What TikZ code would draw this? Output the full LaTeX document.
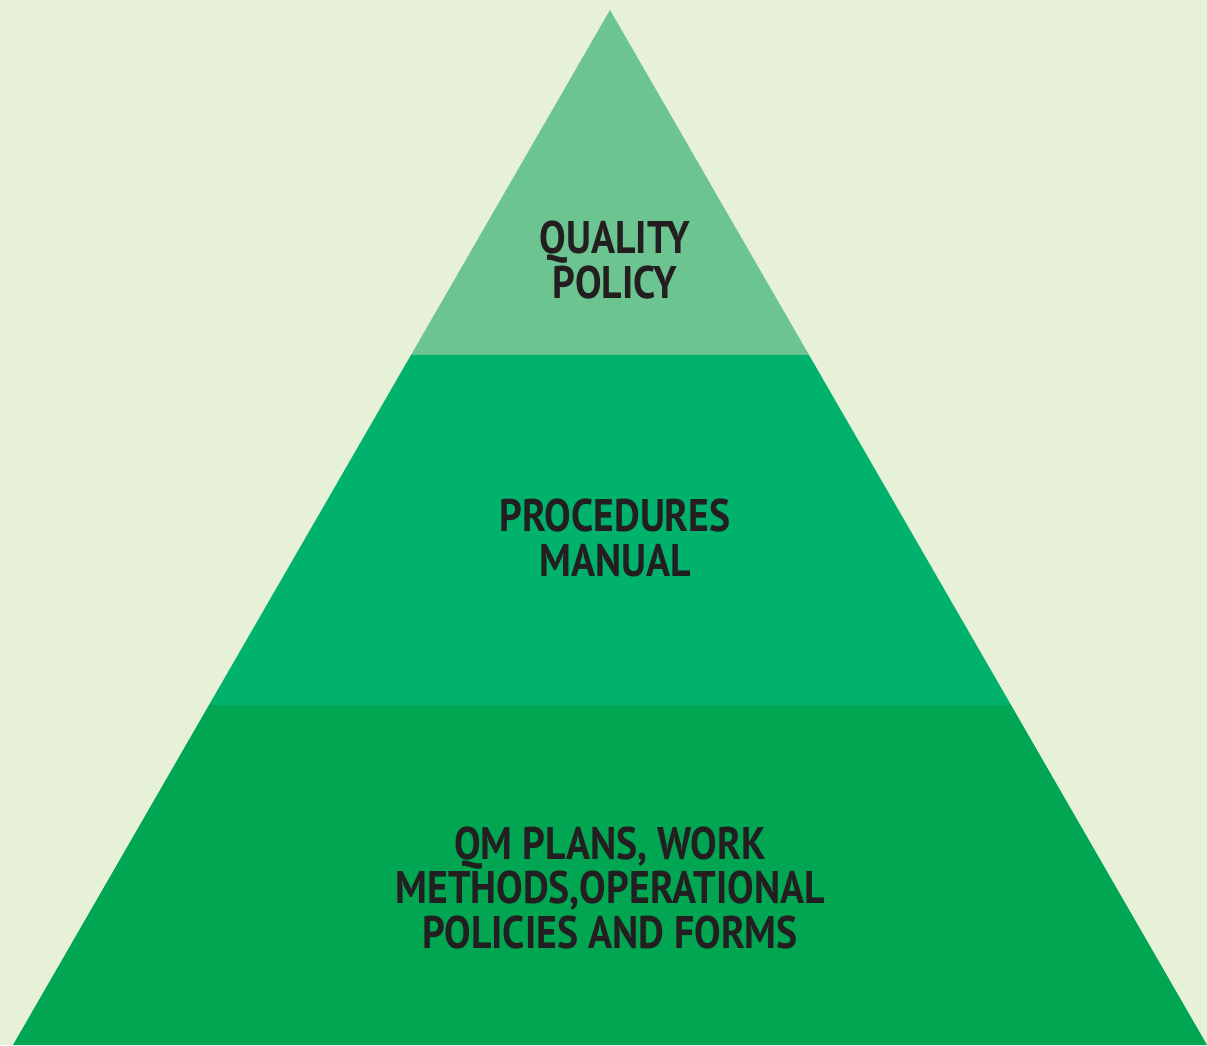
\documentclass[tikz,border=0pt]{standalone}
\usepackage{fontspec}
\newfontfamily\tierfont{PT Sans}[FakeStretch=0.87]
\usetikzlibrary{positioning}

\definecolor{bgcol}{HTML}{E6F1D7}
\definecolor{topcol}{HTML}{6CC491}
\definecolor{midcol}{HTML}{00B26C}
\definecolor{botcol}{HTML}{00A652}
\definecolor{txtcol}{HTML}{231F20}

\begin{document}
\begin{tikzpicture}[tier label/.style={align=center,text=txtcol,
    font=\tierfont\bfseries\fontsize{13}{12.6}\selectfont,inner sep=0pt}]

  \fill[bgcol] (0,0) rectangle (12.07,10.45);
  \useasboundingbox (0,0) rectangle (12.07,10.45);

  \coordinate (apex) at (6.10,10.35);
  \coordinate (ul) at (4.11,6.90);
  \coordinate (ur) at (8.09,6.90);
  \coordinate (ml) at (2.09,3.40);
  \coordinate (mr) at (10.11,3.40);
  \coordinate (bl) at (0.13,0);
  \coordinate (br) at (12.07,0);

  \fill[topcol] (apex) -- (ul) -- (ur) -- cycle;
  \fill[midcol] (ul) -- (ml) -- (mr) -- (ur) -- cycle;
  \fill[botcol] (ml) -- (bl) -- (br) -- (mr) -- cycle;

  \node[tier label] (policy) at (6.15,7.85) {QUALITY\\POLICY};
  \node[tier label] (manual) at (6.15,5.07) {PROCEDURES\\MANUAL};
  \node[tier label] (forms) at (6.10,1.57) {QM PLANS, WORK\\METHODS,OPERATIONAL\\POLICIES AND FORMS};

\end{tikzpicture}
\end{document}
